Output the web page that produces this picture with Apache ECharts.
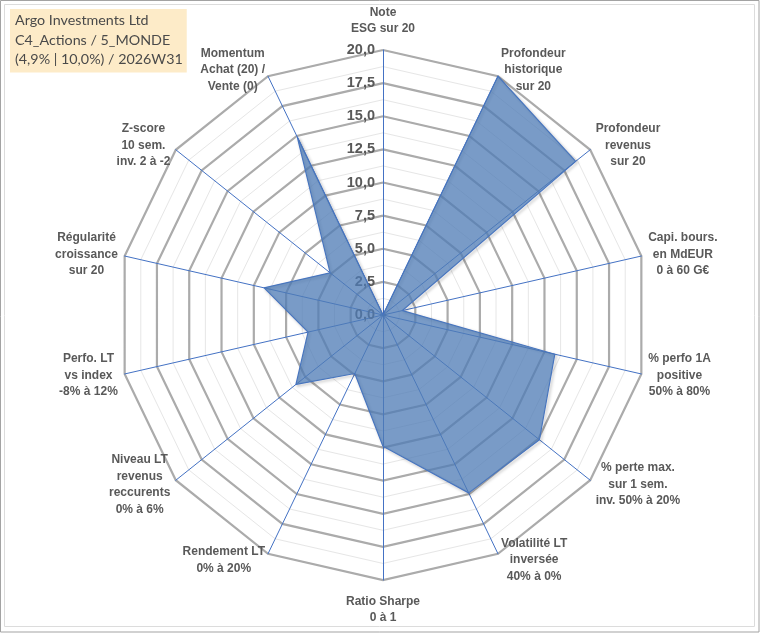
<!DOCTYPE html>
<html>
<head>
<meta charset="utf-8">
<script src="https://cdn.jsdelivr.net/npm/echarts@6/dist/echarts.min.js"></script>
<style>
  html, body { margin: 0; padding: 0; background: #fff; }
  #chart { width: 760px; height: 633px; }
</style>
</head>
<body>
<div id="chart"></div>
<script>
// axes listed clockwise from the top, as in the source chart
const axisNames = [
  'Note\nESG sur 20',
  'Profondeur\nhistorique\nsur 20',
  'Profondeur\nrevenus\nsur 20',
  'Capi. bours.\nen MdEUR\n0 à 60 G€',
  '% perfo 1A\npositive\n50% à 80%',
  '% perte max.\nsur 1 sem.\ninv. 50% à 20%',
  'Volatilité LT\ninversée\n40% à 0%',
  'Ratio Sharpe\n0 à 1',
  'Rendement LT\n0% à 20%',
  'Niveau LT\nrevenus\nreccurents\n0% à 6%',
  'Perfo. LT\nvs index\n-8% à 12%',
  'Régularité\ncroissance\nsur 20',
  'Z-score\n10 sem.\ninv. 2 à -2',
  'Momentum\nAchat (20) /\nVente (0)'
];
const scores = [0, 20, 18.6, 1.5, 13.3, 15.1, 14.9, 9.9, 4.9, 8.4, 5.8, 9.2, 5.1, 14.9];
const scoreMax = 20;
const scoreStep = 2.5;
const titleLines = [
  'Argo Investments Ltd',
  'C4_Actions / 5_MONDE',
  '(4,9% | 10,0%) / 2026W31'
];

const tickFont = {
  color: '#595959', fontWeight: 'bold', fontSize: 14.5, fontFamily: 'Liberation Sans'
};
const tickText = (v) => Number(v).toFixed(1).replace('.', ',');

// echarts lays radar indicators out counter-clockwise: reverse all but the first
const order = [0].concat(axisNames.map((n, i) => i).slice(1).reverse());
const indicator = order.map((i, k) => ({
  name: axisNames[i],
  min: 0,
  max: scoreMax,
  // vertical axes (top and bottom) sit a little farther from their names
  nameGap: (i === 0 || i === 7) ? 13 : 7,
  axisLabel: k === 0
    ? Object.assign({ show: true, formatter: tickText }, tickFont)
    : { show: false }
}));
const values = order.map((i) => scores[i]);

const center = [383, 315];
const radius = 265;
const splits = scoreMax / scoreStep;
const labelFont = {
  color: '#595959', fontWeight: 'bold', fontSize: 12,
  fontFamily: 'Liberation Sans', lineHeight: 16.5
};

const chart = echarts.init(document.getElementById('chart'), null, { renderer: 'canvas' });
chart.setOption({
  animation: false,
  backgroundColor: '#fff',
  title: {
    text: titleLines.join('\n'),
    left: 10,
    top: 9,
    padding: [2, 4, 3, 5],
    backgroundColor: '#FDEBC8',
    textStyle: {
      fontFamily: 'Lato', fontSize: 14.3, fontWeight: 'normal',
      color: '#4A4A4A', lineHeight: 19.5
    }
  },
  graphic: [
    { type: 'rect', shape: { x: 0.5, y: 0.5, width: 758.5, height: 631.5 },
      style: { fill: null, stroke: '#A3A3A3', lineWidth: 1 }, silent: true },
    { type: 'rect', shape: { x: 4.5, y: 4.5, width: 750, height: 622 },
      style: { fill: null, stroke: '#DCDCDC', lineWidth: 1 }, silent: true }
  ],
  radar: [
    {
      // minor grid rings
      center, radius, startAngle: 90, shape: 'polygon',
      splitNumber: splits * 2,
      indicator: indicator.map((d) => ({ name: '', min: d.min, max: d.max })),
      axisName: { show: false },
      axisLine: { show: false },
      axisTick: { show: false },
      axisLabel: { show: false },
      splitArea: { show: false },
      splitLine: { lineStyle: { color: '#E6E6E6', width: 1 } },
      silent: true
    },
    {
      center, radius, startAngle: 90, shape: 'polygon',
      splitNumber: splits,
      indicator,
      nameGap: 7,
      axisName: Object.assign({}, labelFont, {
        formatter: (name) => name.split('\n').map((l) => '{c|' + l + '}').join('\n'),
        rich: { c: Object.assign({ align: 'center' }, labelFont) }
      }),
      axisLine: { lineStyle: { color: '#4472C4', width: 1 } },
      axisTick: { show: false },
      splitArea: { show: false },
      splitLine: { lineStyle: { color: '#ABABAB', width: 2.2 } }
    }
  ],
  series: [{
    type: 'radar',
    radarIndex: 1,
    symbol: 'none',
    data: [{ value: values }],
    lineStyle: {
      color: '#4472C4', width: 1.2,
      shadowColor: 'rgba(0,0,0,0.35)', shadowBlur: 3, shadowOffsetX: 1.5, shadowOffsetY: 1.5
    },
    areaStyle: { color: '#4F7BB6', opacity: 0.76 }
  }]
});
</script>
</body>
</html>
